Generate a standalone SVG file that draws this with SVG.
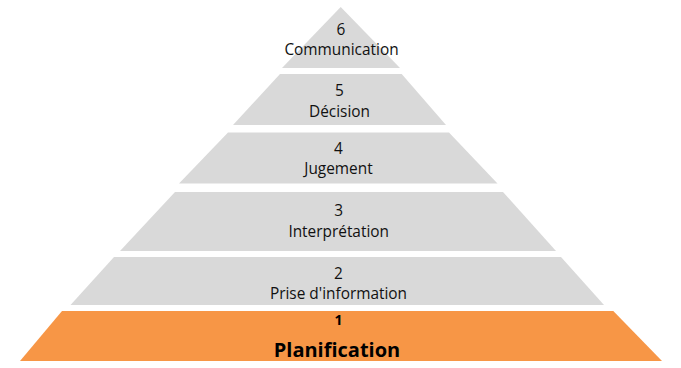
<svg xmlns="http://www.w3.org/2000/svg" width="681" height="368" viewBox="0 0 681 368">
<style>
.lvl{fill:#d9d9d9;}
.base{fill:#f79646;}
.t{font-family:"Open Sans","Liberation Sans",sans-serif;font-size:15.4px;fill:#111111;text-anchor:middle;}
.b{font-family:"Open Sans","Liberation Sans",sans-serif;font-weight:bold;fill:#000;text-anchor:middle;}
</style>
<rect width="681" height="368" fill="#ffffff"/>
<g id="level6">
<polygon class="lvl" points="340.7,7 400,68 282,68"/>
<text class="t" x="341" y="35">6</text>
<text class="t" x="341.5" y="55">Communication</text>
</g>
<g id="level5">
<polygon class="lvl" points="280,74 401.7,74 446,125 233,125"/>
<text class="t" x="339.5" y="95.5">5</text>
<text class="t" x="339.5" y="117">Décision</text>
</g>
<g id="level4">
<polygon class="lvl" points="228,132.5 449,132.5 497.5,183.5 179,183.5"/>
<text class="t" x="338.5" y="153.5">4</text>
<text class="t" x="338.5" y="173.5">Jugement</text>
</g>
<g id="level3">
<polygon class="lvl" points="175,192 503,192 556,251 120,251"/>
<text class="t" x="338.7" y="215.5">3</text>
<text class="t" x="338.7" y="237.3">Interprétation</text>
</g>
<g id="level2">
<polygon class="lvl" points="114,257 561,257 604,305 70.5,305"/>
<text class="t" x="338.5" y="278.5">2</text>
<text class="t" x="338.5" y="298.7">Prise d'information</text>
</g>
<g id="level1">
<polygon class="base" points="62,311 613.3,311 662,361 20,361"/>
<text class="b" x="338.5" y="325" font-size="14">1</text>
<text class="b" x="337" y="357" font-size="20">Planification</text>
</g>
<g id="connectors"/>
</svg>
